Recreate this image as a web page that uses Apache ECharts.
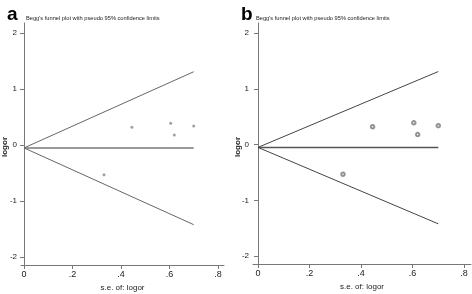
<!DOCTYPE html>
<html>
<head>
<meta charset="utf-8">
<script src="https://cdn.jsdelivr.net/npm/echarts@6/dist/echarts.min.js"></script>
<style>
  html, body { margin: 0; padding: 0; background: #fff; }
  #chart { width: 472px; height: 294px; }
</style>
</head>
<body>
<div id="chart"></div>
<script>
// studies: standard error of logor, logor
const studySE = [0.33, 0.445, 0.605, 0.62, 0.70];
const studyLogor = [-0.53, 0.32, 0.39, 0.18, 0.34];
// pooled estimate and pseudo 95% limits
const pooledLine = [[0, -0.05], [0.7, -0.05]];
const upperLimit = [[0, -0.05], [0.7, 1.31]];
const lowerLimit = [[0, -0.05], [0.7, -1.42]];
const xTicks = [0, 0.2, 0.4, 0.6, 0.8];
const yTicks = [-2, -1, 0, 1, 2];
const titleText = "Begg's funnel plot with pseudo 95% confidence limits";

const points = studySE.map((s, i) => [s, studyLogor[i]]);
const font = "'Liberation Sans Narrow', 'Liberation Sans', Arial, sans-serif";

function fmtX(v) {
    if (v === 0) return '0';
    return String(v).replace(/^0/, '');
}

let chart = echarts.init(document.getElementById('chart'), null, {renderer: 'canvas'});

function xAxisFor(idx, min, max) {
    return {
        type: 'value', gridIndex: idx, min: min, max: max,
        name: 's.e. of: logor', nameLocation: 'middle', nameGap: 19,
        nameTextStyle: {fontFamily: font, fontSize: 8, color: '#222'},
        splitLine: {show: false},
        axisLine: {onZero: false, lineStyle: {color: '#777', width: 1}},
        axisTick: {customValues: xTicks, length: 4, lineStyle: {color: '#777'}},
        axisLabel: {customValues: xTicks, formatter: fmtX, fontFamily: font, fontSize: 9, color: '#222', margin: 5}
    };
}

function yAxisFor(idx) {
    return {
        type: 'value', gridIndex: idx, min: -2.14, max: 2.18,
        splitLine: {show: false},
        axisLine: {show: true, lineStyle: {color: '#777', width: 1}},
        axisTick: {customValues: yTicks, length: 4, lineStyle: {color: '#777'}},
        axisLabel: {customValues: yTicks, fontFamily: font, fontSize: 8, color: '#222', margin: 4}
    };
}

function yName(x) {
    return {
        type: 'text', x: x, y: 147, rotation: Math.PI / 2,
        style: {text: 'logor', align: 'center', verticalAlign: 'middle',
            font: "bold 8px 'Liberation Sans', Arial, sans-serif", fill: '#222'}
    };
}

function lineSeries(idx, data, color, width) {
    return {
        type: 'line', xAxisIndex: idx, yAxisIndex: idx, data: data,
        symbol: 'none', silent: true,
        lineStyle: {color: color, width: width}
    };
}

let option = {
    animation: false,
    backgroundColor: '#fff',
    title: [
        {text: 'a', left: 2, top: 0, textStyle: {fontFamily: 'Liberation Sans, Arial', fontSize: 19, fontWeight: 'bold', color: '#000'}},
        {text: titleText, left: 21, top: 10, textStyle: {fontFamily: font, fontSize: 5.7, fontWeight: 'normal', color: '#222'}},
        {text: 'b', left: 236, top: 0, textStyle: {fontFamily: 'Liberation Sans, Arial', fontSize: 19, fontWeight: 'bold', color: '#000'}},
        {text: titleText, left: 251, top: 10, textStyle: {fontFamily: font, fontSize: 5.7, fontWeight: 'normal', color: '#222'}}
    ],
    graphic: [yName(5), yName(238)],
    grid: [
        {left: 21, top: 23, width: 203, height: 242, containLabel: false, outerBoundsMode: 'none'},
        {left: 253, top: 23, width: 218, height: 241, containLabel: false, outerBoundsMode: 'none'}
    ],
    xAxis: [xAxisFor(0, -0.0124, 0.825), xAxisFor(1, -0.0194, 0.827)],
    yAxis: [yAxisFor(0), yAxisFor(1)],
    series: [
        lineSeries(0, pooledLine, '#999', 2),
        lineSeries(0, upperLimit, '#666', 1),
        lineSeries(0, lowerLimit, '#666', 1),
        {
            type: 'scatter', xAxisIndex: 0, yAxisIndex: 0, data: points,
            symbol: 'circle', symbolSize: 3,
            itemStyle: {color: '#888'}
        },
        lineSeries(1, pooledLine, '#555', 1.5),
        lineSeries(1, upperLimit, '#444', 1),
        lineSeries(1, lowerLimit, '#444', 1),
        {
            type: 'scatter', xAxisIndex: 1, yAxisIndex: 1, data: points,
            symbol: 'emptyCircle', symbolSize: 3.5,
            itemStyle: {color: '#777', borderWidth: 0.8}
        }
    ]
};

option && chart.setOption(option);
</script>
</body>
</html>
